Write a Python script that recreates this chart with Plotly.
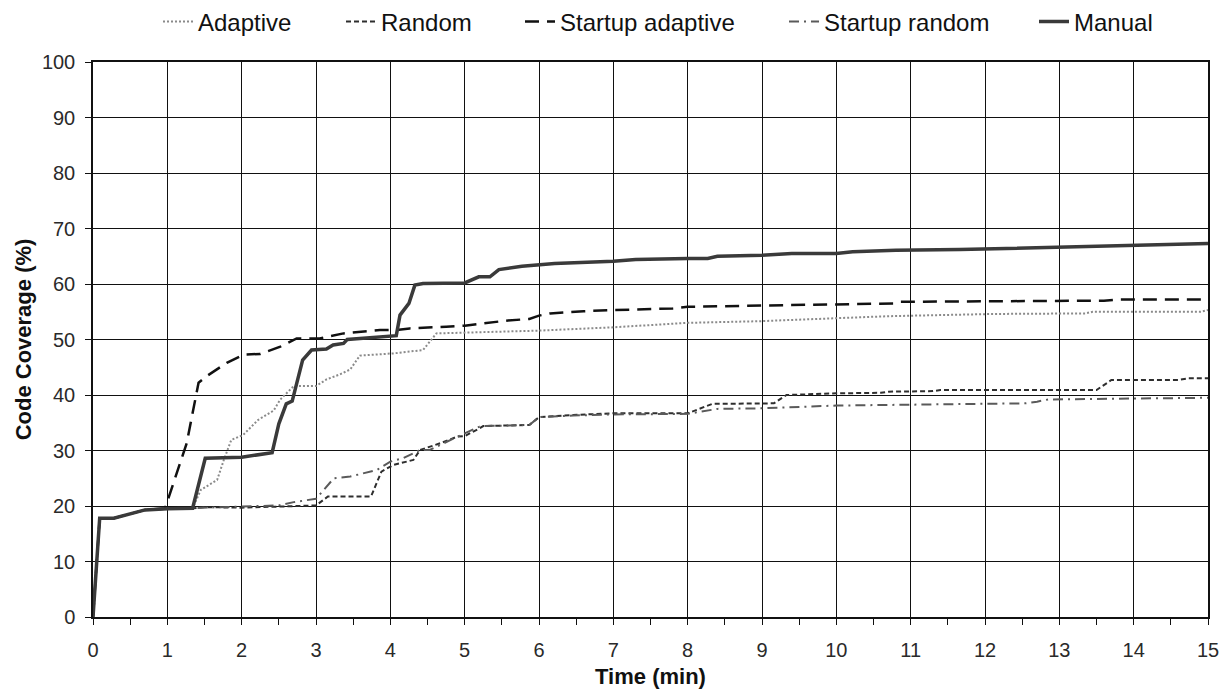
import plotly.graph_objects as go

# Time (minutes) and code coverage (%) for each exploration strategy
adaptive_t = [0, 0.09, 0.28, 0.5, 0.7, 1.0, 1.34, 1.45, 1.67, 1.76, 1.86, 2.02, 2.22, 2.43, 2.52, 2.7,
              3.0, 3.14, 3.32, 3.46, 3.59, 4.04, 4.44, 4.62, 5.0, 6.0, 7.0, 7.45, 8.0, 8.97, 10.0,
              10.7, 11.4, 12.1, 13.35, 13.45, 14.9, 15.0]
adaptive_v = [0, 17.8, 17.8, 18.6, 19.3, 19.5, 19.6, 22.9, 24.7, 28.3, 31.9, 32.8, 35.5, 37.2, 39.2, 41.6,
              41.6, 42.8, 43.7, 44.6, 47.1, 47.5, 48.1, 51.1, 51.2, 51.6, 52.2, 52.6, 53.0, 53.3, 53.9,
              54.2, 54.4, 54.6, 54.7, 55.0, 55.0, 55.3]

random_t = [0, 0.09, 0.28, 0.5, 0.7, 1.0, 1.35, 1.5, 2.0, 3.0, 3.16, 3.74, 3.88, 4.04, 4.31, 4.4, 4.67,
            4.9, 5.0, 5.2, 5.25, 5.87, 6.0, 6.46, 7.0, 8.0, 8.25, 8.33, 9.16, 9.33, 10.0, 10.6, 10.7,
            11.3, 11.4, 13.5, 13.7, 14.6, 14.74, 15.0]
random_v = [0, 17.8, 17.8, 18.6, 19.3, 19.5, 19.6, 19.8, 19.7, 20.1, 21.7, 21.7, 26.2, 27.4, 28.3, 30.1, 31.3,
            32.5, 32.6, 34.0, 34.4, 34.6, 36.0, 36.4, 36.7, 36.7, 37.9, 38.4, 38.5, 40.0, 40.3, 40.4, 40.6,
            40.7, 40.9, 40.9, 42.7, 42.7, 43.0, 43.0]

startup_adaptive_t = [0, 0.09, 0.28, 0.5, 0.7, 0.97, 1.26, 1.42, 1.53, 1.8, 2.03, 2.25, 2.52, 2.74, 3.05,
                      3.37, 3.59, 3.86, 4.08, 4.26, 4.75, 5.0, 5.2, 5.56, 5.87, 6.0, 6.15, 6.6, 7.0, 7.8,
                      8.0, 9.0, 10.0, 10.77, 10.86, 13.6, 13.8, 15.0]
startup_adaptive_v = [0, 17.8, 17.8, 18.6, 19.3, 19.6, 31.3, 42.2, 43.4, 45.8, 47.3, 47.4, 48.7, 50.2, 50.2,
                      51.1, 51.4, 51.7, 51.7, 52.0, 52.3, 52.5, 52.8, 53.4, 53.7, 54.3, 54.7, 55.1, 55.3, 55.6,
                      55.9, 56.1, 56.3, 56.5, 56.8, 57.0, 57.2, 57.2]

startup_random_t = [0, 0.09, 0.28, 0.5, 0.7, 1.0, 1.35, 1.45, 2.0, 2.5, 2.7, 3.0, 3.24, 3.46, 3.82, 4.0,
                    4.17, 4.4, 4.53, 5.0, 5.2, 5.25, 5.87, 6.0, 6.46, 7.0, 8.0, 8.4, 8.97, 10.0, 11.0,
                    12.55, 12.7, 12.85, 15.0]
startup_random_v = [0, 17.8, 17.8, 18.6, 19.3, 19.5, 19.6, 19.7, 19.9, 20.1, 20.7, 21.3, 25.0, 25.3, 26.5, 28.0,
                    28.6, 30.1, 30.1, 33.1, 34.3, 34.4, 34.6, 36.0, 36.3, 36.5, 36.6, 37.5, 37.6, 38.1, 38.3,
                    38.5, 38.8, 39.2, 39.5]

manual_t = [0, 0.09, 0.28, 0.5, 0.7, 1.0, 1.34, 1.51, 2.0, 2.41, 2.5, 2.6, 2.68, 2.82, 2.94, 3.14, 3.23,
            3.37, 3.42, 3.59, 4.08, 4.13, 4.25, 4.33, 4.44, 5.0, 5.19, 5.34, 5.46, 5.77, 6.0, 6.21, 7.0,
            7.3, 8.0, 8.27, 8.4, 9.0, 9.4, 10.0, 10.22, 10.8, 11.66, 12.55, 13.45, 14.17, 14.7, 15.0]
manual_v = [0, 17.8, 17.8, 18.6, 19.3, 19.5, 19.6, 28.6, 28.8, 29.6, 34.8, 38.4, 38.9, 46.3, 48.1, 48.3, 49.0,
            49.3, 50.0, 50.2, 50.7, 54.4, 56.5, 59.8, 60.1, 60.2, 61.3, 61.3, 62.6, 63.2, 63.4, 63.7, 64.1,
            64.4, 64.6, 64.6, 65.0, 65.2, 65.5, 65.5, 65.8, 66.1, 66.2, 66.5, 66.8, 67.1, 67.3, 67.3]

x_ticks = list(range(0, 16))
y_ticks = list(range(0, 101, 10))

FONT = "Liberation Sans, Arial, sans-serif"
W, H = 1231, 695
M_L, M_R, M_T, M_B = 93, 23, 62, 78

fig = go.Figure()

# name, x, y, line style, left edge of its legend entry (px)
series = [
    ("Adaptive", adaptive_t, adaptive_v, dict(color="#8a8a8a", width=2, dash="2px,2px"), 158),
    ("Random", random_t, random_v, dict(color="#2e2e2e", width=2, dash="5px,3px"), 341),
    ("Startup adaptive", startup_adaptive_t, startup_adaptive_v, dict(color="#111111", width=2.5, dash="14px,8px"), 520),
    ("Startup random", startup_random_t, startup_random_v, dict(color="#5a5a5a", width=2, dash="10px,5px,2px,5px"), 784),
    ("Manual", manual_t, manual_v, dict(color="#3a3a3a", width=3.5), 1034),
]

legend_layout = {}
for i, (name, t, v, line, left_px) in enumerate(series):
    key = "legend" if i == 0 else f"legend{i + 1}"
    fig.add_trace(go.Scatter(x=t, y=v, mode="lines", name=name, line=line, legend=key))
    legend_layout[key] = dict(
        x=(left_px - M_L) / (W - M_L - M_R), xanchor="left",
        yref="container", y=1 - 22 / H, yanchor="middle",
        orientation="h", font=dict(family=FONT, size=24, color="#111111"),
        itemwidth=30, bgcolor="rgba(0,0,0,0)", borderwidth=0,
    )

axis_common = dict(
    showline=True, linecolor="#111111", linewidth=1.5, mirror=True,
    showgrid=True, gridcolor="#111111", gridwidth=1.3,
    zeroline=False,
    ticks="outside", tickcolor="#111111", ticklen=6, tickwidth=1.3,
    tickfont=dict(family=FONT, size=20, color="#2a2a2a"),
)

fig.update_xaxes(
    range=[0, 15], tickvals=x_ticks, ticklabelstandoff=8,
    minor=dict(dtick=0.5, ticks="outside", ticklen=6, tickcolor="#111111", showgrid=False),
    title=dict(text="<b>Time (min)</b>", font=dict(family=FONT, size=22, color="#111111"), standoff=9),
    **axis_common,
)
fig.update_yaxes(
    range=[0, 100], tickvals=y_ticks, ticklabelstandoff=6,
    title=dict(text="<b>Code Coverage (%)</b>", font=dict(family=FONT, size=22, color="#111111"), standoff=4),
    **axis_common,
)

fig.update_layout(
    width=W, height=H,
    margin=dict(l=M_L, r=M_R, t=M_T, b=M_B, autoexpand=False),
    paper_bgcolor="white", plot_bgcolor="white",
    font=dict(family=FONT, color="#111111"),
    showlegend=True,
    **legend_layout,
)

fig.write_html("out.html")
